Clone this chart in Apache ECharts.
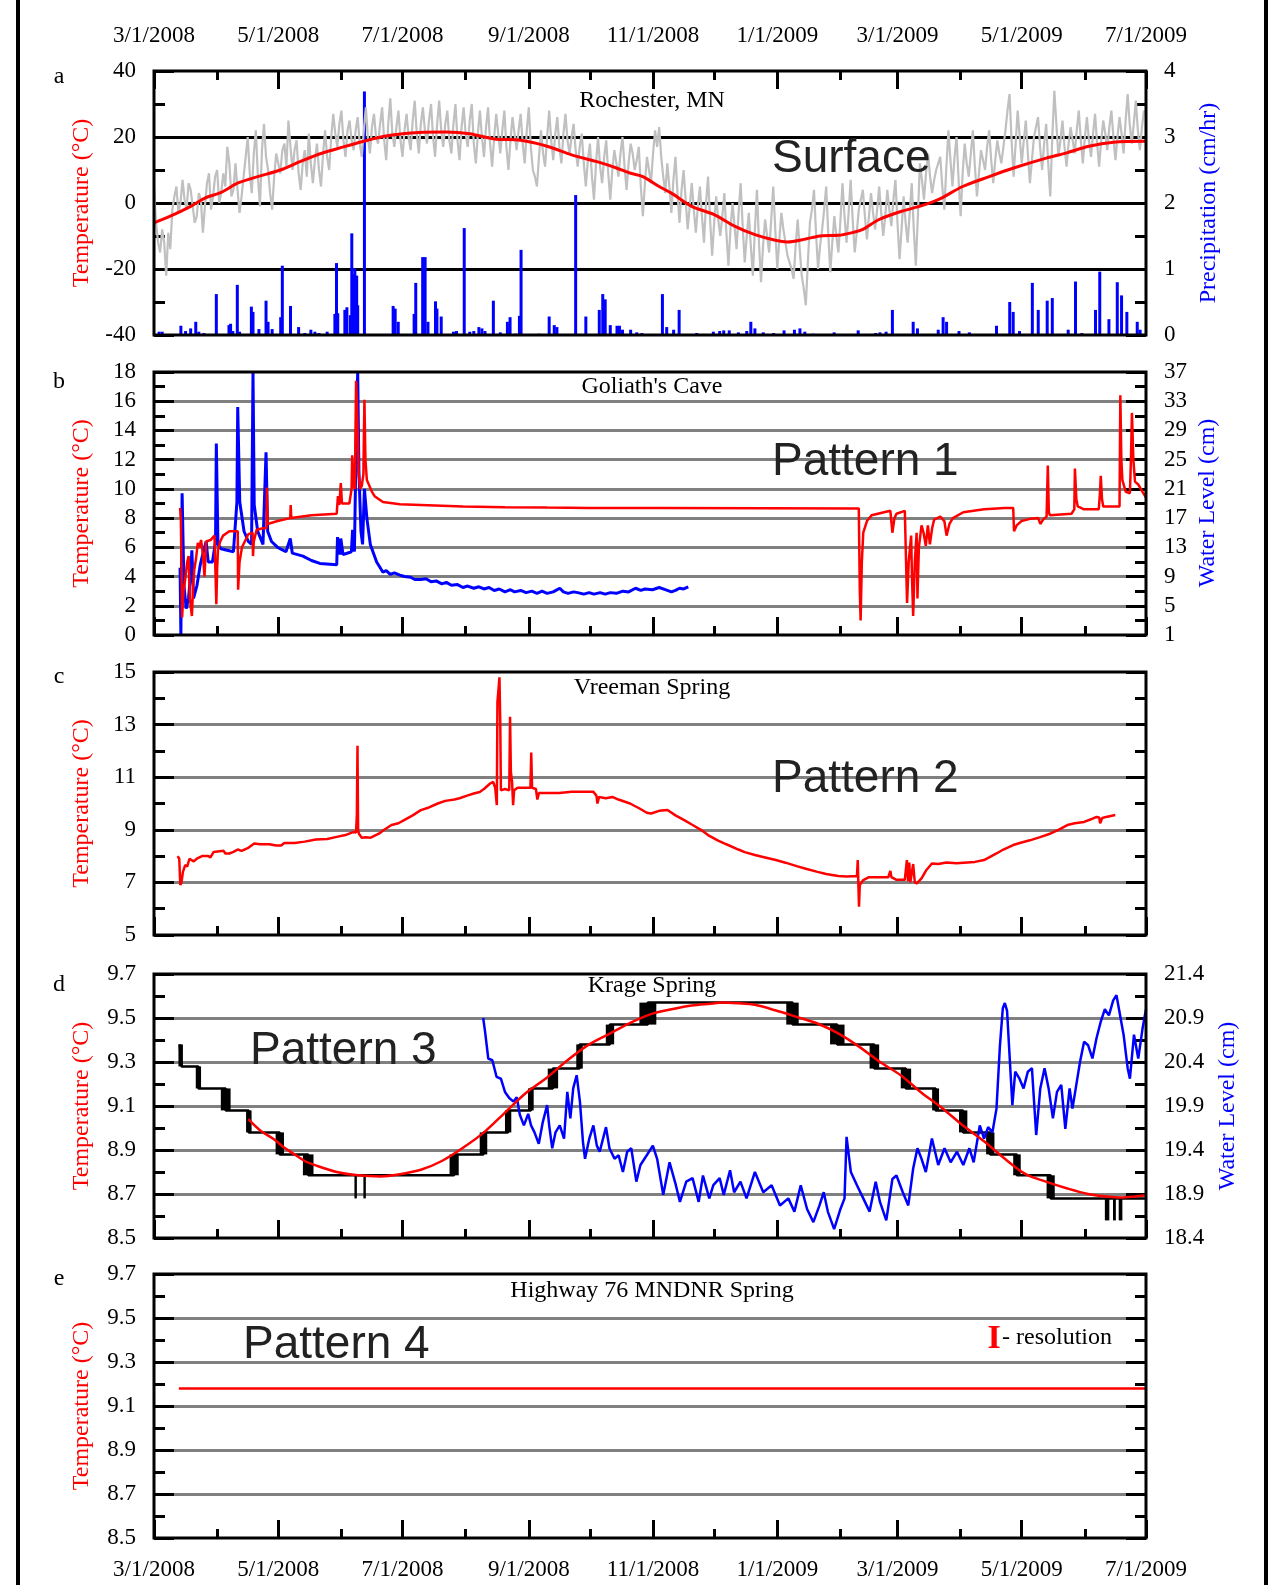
<!DOCTYPE html>
<html>
<head>
<meta charset="utf-8">
<title>Surface and spring temperature records</title>
<script src="https://cdn.jsdelivr.net/npm/echarts@6/dist/echarts.min.js"></script>
<style>
    html, body { margin: 0; padding: 0; background: #fff; }
    #chart { width: 1283px; height: 1585px; }
</style>
</head>
<body>
<div id="chart"></div>
<script>
// x values are days since 3/1/2008
var monthDays = [0, 31, 61, 92, 122, 153, 184, 214, 245, 275, 306, 337, 365, 396, 426, 457, 487];
var labelDays = [0, 61, 122, 184, 245, 306, 365, 426, 487];
var dateLabels = ['3/1/2008', '5/1/2008', '7/1/2008', '9/1/2008', '11/1/2008', '1/1/2009', '3/1/2009', '5/1/2009', '7/1/2009'];

// y tick labels
var ticksA = [-40, -20, 0, 20, 40];
var precipTicks = [0, 1, 2, 3, 4];
var ticksB = [0, 2, 4, 6, 8, 10, 12, 14, 16, 18];
var caveLevelTicks = [1, 5, 9, 13, 17, 21, 25, 29, 33, 37];
var ticksC = [5, 7, 9, 11, 13, 15];
var ticksDE = [8.5, 8.7, 8.9, 9.1, 9.3, 9.5, 9.7];
var krageLevelTicks = [18.4, 18.9, 19.4, 19.9, 20.4, 20.9, 21.4];

// a: Rochester air temperature on even days (day 0, 2, 4, ...)
var airTempEven = [
    5, -12, -8, -22, -14, 2, -3, 7, -2, 4,
    -6, 3, -9, 6, -2, 8, 0, 9, 17, 2,
    12, -3, 8, 20, 3, 22, -1, 24, 10, -2,
    15, 9, 18, 25, 10, 19, 4, 16, 21, 6,
    18, 5, 22, 10, 27, 17, 28, 14, 25, 16,
    26, 14, 29, 15, 27, 18, 29, 13, 31.7, 17,
    28, 14, 27, 16, 31, 15, 29, 18, 30, 14,
    31, 17, 28, 15, 30, 13, 29, 17, 30, 12,
    28, 14, 29, 11, 27, 15, 28, 10, 26, 16,
    27, 12, 29, 10, 5, 22, 11, 28, 13, 26,
    12, 27, 15, 24, 11, 21, 5, 18, 1, 20,
    6, 19, 1, 16, 8, 20, 4, 18, 10, 17,
    -4, 14, 6, 22, 23, 8, 12, -3, 14, -6,
    10, -8, 6, -9, 5, -12, 8, -16, 2, -10,
    3, -19, 0, -14, 6, -18, -3, -22, 4, -24,
    -5, -15, 5, -20, -3, -12, -18, -23, -5, -22,
    -31, -6, 4, -20, -8, 5, -21, -4, -15, 6,
    -12, 7, -15, -2, 4, -11, 3, -8, 5, -10,
    4, -7, 7, -17, 2, -12, 6, -19, 12, 1,
    15, 3, 10, 14, -2, 22, 5, 20, -4, 18,
    8, 22, 2, 16, 10, 22, 6, 19, 12, 22,
    33, 8, 28, 12, 25, 6, 20, 26, 10, 24,
    2, 34, 14, 25, 11, 23, 15, 28, 12, 26,
    14, 27, 11, 25, 16, 28, 13, 26, 15, 33,
    18, 31, 16, 28
];
// a: Rochester air temperature on odd days (day 1, 3, 5, ...)
var airTempOdd = [
    -6, -15, -12, -9, -2, 5, 0, 1, 6, -1,
    -4, 1, -1, 9, 2, 10, 3, 5, 12, 4,
    4, 2, 14, 9, 15, 8, 16, 14, 3, 8,
    12, 16, 11, 17, 16, 9, 12, 8, 12, 13,
    10, 15, 14, 20, 21, 24, 19, 22, 19, 22,
    18, 22, 20, 23, 20, 24, 19, 24, 21, 23,
    19, 22, 20, 25, 21, 24, 22, 25, 20, 24,
    22, 24, 19, 24, 19, 23, 21, 25, 18, 21,
    20, 23, 18, 20, 21, 22, 17, 19, 21, 22,
    18, 22, 17, 8, 14, 15, 20, 19, 21, 17,
    21, 19, 20, 16, 17, 12, 13, 8, 12, 11,
    14, 9, 10, 12, 15, 11, 12, 15, 13, 5,
    6, 10, 15, 17, 14, 3, 5, 7, 3, 4,
    1, -1, -2, -1, -4, 0, -5, -6, -5, -4,
    -9, -8, -7, -3, -7, -10, -13, -8, -12, -13,
    -10, -5, -8, -11, -8, -16, -20, -13, -14, -26,
    -18, -2, -9, -13, -2, -9, -12, -10, -5, -4,
    -3, -5, -9, 1, -4, -4, -3, -2, -3, -4,
    -2, 1, -6, -8, -6, -3, -8, -4, 7, 9,
    8, 7, 12, 5, 11, 13, 14, 7, 9, 12,
    15, 11, 9, 13, 17, 13, 13, 15, 17, 28,
    19, 18, 20, 19, 15, 13, 23, 17, 18, 12,
    20, 24, 19, 17, 18, 19, 22, 19, 20, 19,
    21, 18, 19, 21, 23, 20, 20, 21, 25, 24,
    24, 22, 23
];

// a: running mean of air temperature [day, degC]
var airTempMean = [[0, -6], [8, -4], [18, -1], [25, 1.5], [33, 3.2], [41, 6], [51, 8], [62, 10], [72, 12.6],
    [82, 15], [93, 17], [103, 18.7], [113, 20.2], [122, 21], [130, 21.4], [143, 21.5], [155, 21], [167, 19.4],
    [180, 19], [193, 17.2], [205, 14.6], [217, 12.6], [227, 10.6], [234, 9], [240, 8], [248, 5], [254, 3],
    [264, -1], [275, -3.5], [285, -7], [295, -9.6], [305, -11.3], [311, -11.8], [320, -10.9], [328, -9.9],
    [336, -9.8], [344, -8.8], [348, -8], [356, -5], [367, -2.5], [377, -0.8], [385, 1], [397, 5], [410, 8],
    [422, 10.6], [438, 13.6], [448, 15.2], [459, 17.2], [471, 18.4], [487, 18.7]];

// a: precipitation [day, cm/hr]
var precip = [[2.5, 0.05], [4, 0.05], [13.2, 0.14], [15.5, 0.06], [18, 0.1], [20.5, 0.2], [22, 0.05], [24.5, 0.03],
    [30.6, 0.62], [36.8, 0.15], [37.6, 0.17], [38.7, 0.06], [40.9, 0.76], [42, 0.05], [47.8, 0.43], [48.6, 0.35],
    [51.5, 0.09], [55, 0.52], [56, 0.2], [58, 0.09], [62.2, 0.27], [63, 1.05], [67, 0.44], [71, 0.12], [74, 0.03],
    [77, 0.08], [79, 0.05], [81, 0.03], [85, 0.05], [88.8, 0.32], [89.6, 1.09], [90.2, 0.33], [93.7, 0.38],
    [94.7, 0.42], [96.4, 0.3], [97.1, 1.54], [98, 0.92], [98.6, 1.01], [99.5, 0.9], [100, 0.45], [103.3, 3.69],
    [117.4, 0.44], [118.4, 0.4], [119.9, 0.2], [127.7, 0.32], [128.5, 0.79], [131.9, 1.18], [133.1, 1.18],
    [134.5, 0.2], [138.2, 0.51], [138.9, 0.4], [141, 0.28], [147, 0.05], [148.5, 0.06], [152.3, 1.62], [155, 0.05],
    [157, 0.06], [159.5, 0.12], [161, 0.1], [162.5, 0.06], [166.6, 0.52], [170, 0.04], [173.5, 0.2], [174.8, 0.27],
    [177.5, 0.02], [179.4, 0.29], [180.2, 1.29], [189, 0.02], [194, 0.28], [196.5, 0.15], [197.8, 0.12],
    [207, 2.12], [212, 0.28], [218.6, 0.38], [220.3, 0.62], [221.5, 0.54], [224, 0.15], [227.3, 0.14],
    [228.5, 0.14], [230, 0.08], [234, 0.08], [237, 0.04], [239.5, 0.03], [249.6, 0.62], [251.7, 0.12],
    [255.1, 0.08], [257.8, 0.38], [266.4, 0.03], [274.6, 0.05], [277.7, 0.06], [279.7, 0.07], [282.4, 0.07],
    [286.9, 0.04], [291, 0.06], [293, 0.2], [295, 0.1], [299.1, 0.04], [304.2, 0.03], [309.3, 0.07],
    [314.4, 0.08], [317.1, 0.1], [319.5, 0.05], [323.6, 0.02], [333.9, 0.04], [345.7, 0.07], [354.3, 0.03],
    [356.4, 0.04], [359.4, 0.05], [362.5, 0.38], [372.7, 0.2], [374.8, 0.1], [385, 0.08], [387.4, 0.27],
    [389.1, 0.2], [395.2, 0.06], [400.3, 0.04], [413.6, 0.14], [420.1, 0.5], [421.8, 0.35], [424.9, 0.06],
    [431.2, 0.79], [434.1, 0.38], [438.5, 0.52], [441, 0.56], [448.8, 0.08], [452.4, 0.81], [455.5, 0.03],
    [462.2, 0.38], [464.3, 0.96], [468.8, 0.24], [472.9, 0.8], [475, 0.6], [477.6, 0.35], [482.7, 0.2],
    [484.1, 0.08]];

// b: Goliath's Cave temperature [day, degC]
var caveTemp = [[12.8, 8.7], [13.2, 7.8], [13.8, 1.2], [14.5, 3.0], [15.3, 3.8], [16.3, 5.0], [17.0, 5.4],
    [17.6, 2.5], [18.6, 1.3], [19.3, 3.5], [19.8, 4.5], [20.6, 5.2], [21.5, 6.3], [22.3, 6.0], [23.1, 6.5],
    [24.0, 5.5], [24.8, 4.0], [25.6, 6.4], [27.7, 6.5], [29.7, 6.8], [30.6, 2.1], [31.0, 4.5], [31.4, 5.8],
    [32.5, 6.4], [33.9, 6.8], [37, 7.1], [41.1, 7.1], [41.3, 3.1], [42.0, 5.0], [43.2, 6.0], [46.3, 6.9],
    [48.4, 7.0], [48.6, 5.4], [49.0, 6.4], [50.4, 7.2], [53.5, 7.3], [55.2, 7.3], [55.4, 10.1], [55.8, 7.6],
    [60.7, 7.8], [66.9, 8.0], [67.1, 8.9], [67.4, 8.0], [77.3, 8.2], [89.7, 8.3], [90.3, 9.5], [91.0, 8.9],
    [91.7, 10.4], [92.3, 9.0], [95.9, 9.0], [97.0, 10.0], [97.3, 12.3], [98.0, 10.2], [98.6, 10.0],
    [99.2, 17.4], [99.6, 16.0], [100, 14], [100.5, 11], [101.2, 10.0], [102, 10.2], [102.8, 11], [103.3, 16.1],
    [103.8, 12], [104.5, 10.6], [105.4, 10.5], [107, 9.8], [108.3, 9.5], [112.4, 9.1], [120.7, 8.95],
    [131, 8.9], [151.7, 8.8], [172.3, 8.75], [193, 8.72], [213.6, 8.7], [248.4, 8.7], [300, 8.68], [346, 8.66],
    [346.5, 3], [346.9, 1.0], [347.5, 5], [348.2, 7.0], [350, 7.8], [352.3, 8.2], [361.5, 8.5], [362.3, 8.4],
    [362.5, 7.0], [363.5, 8.0], [364.5, 8.3], [368.6, 8.5], [369.7, 2.2], [370.5, 5], [371.7, 6.8], [372.1, 4],
    [372.7, 1.3], [373.5, 5], [374.4, 7.0], [374.8, 2.5], [375.5, 6], [376.8, 7.5], [377.8, 7.0], [378.9, 6.1],
    [379.9, 7.5], [380.9, 6.2], [382, 7.3], [383, 7.9], [386, 8.1], [388, 7.8], [389.1, 6.8], [390.5, 7.6],
    [392.2, 8.0], [397.3, 8.4], [407.5, 8.6], [417.7, 8.7], [421.8, 8.7], [422.2, 7.1], [423.5, 7.5],
    [425.9, 7.8], [430, 7.95], [434.1, 8.0], [435.1, 7.6], [436.5, 7.9], [438.2, 8.1], [438.8, 11.6],
    [439.3, 8.4], [439.8, 8.2], [450.4, 8.3], [451.8, 8.6], [452.1, 11.4], [452.8, 9.3], [453.5, 8.8],
    [456.6, 8.6], [463.8, 8.6], [464.3, 9.5], [464.8, 10.9], [465.4, 9.3], [466, 8.8], [474, 8.8],
    [474.4, 16.4], [474.9, 12], [475.4, 10.6], [477.1, 9.8], [479.1, 9.7], [479.6, 12], [480.1, 15.2],
    [480.8, 12], [481.6, 10.5], [483.2, 10.3], [485.3, 9.8], [487, 9.4]];

// b: Goliath's Cave water level [day, cm]
var caveLevel = [[12.8, 10.2], [13.2, 1], [13.8, 20.4], [14.7, 7.8], [15.8, 4.6], [16.95, 6], [17.8, 8.8],
    [18.6, 12.6], [19.4, 6], [21.1, 7.8], [22.7, 10.6], [23.9, 12], [25.6, 13.8], [26.6, 11], [28.7, 11],
    [30.2, 13.8], [30.6, 27.2], [31.4, 13.4], [32.9, 12.8], [35.9, 12.6], [39, 12.4], [40.7, 19.2],
    [41.1, 32.2], [42.1, 19.2], [44.2, 15.2], [46.3, 13.8], [47.9, 13.4], [48.6, 37], [49.2, 18.8],
    [50.9, 15.2], [53.5, 13.4], [55, 26], [55.8, 15.2], [57.7, 13.8], [60.7, 13], [64.8, 12.4], [66.9, 14.2],
    [67.9, 12.2], [73.1, 11.8], [77.3, 11.2], [81.4, 10.8], [89.7, 10.6], [90.1, 14.4], [91.3, 12],
    [91.7, 14.2], [92.8, 12], [96.9, 12.4], [97.5, 15.4], [98.4, 12.4], [99.2, 27], [100, 37], [100.6, 23.4],
    [101.6, 15.2], [102.4, 13.4], [103.3, 21], [104.5, 17], [106.2, 13.4], [109.3, 11], [112.4, 9.6],
    [114, 9.8], [116, 9.3], [118, 9.5], [120.7, 9.2], [123, 9.0], [126, 8.9], [128, 8.6], [131, 8.6],
    [133.5, 8.7], [136, 8.3], [138.5, 8.4], [141.3, 8], [143.5, 8.2], [146, 7.8], [149, 7.9], [151.7, 7.5],
    [154, 7.7], [157, 7.4], [159.5, 7.6], [162, 7.3], [164.5, 7.5], [167, 7.1], [169.5, 7.3], [172.3, 6.9],
    [175, 7.2], [177, 6.9], [180, 7.1], [182.7, 6.8], [185.5, 7.0], [188, 6.7], [190.5, 7.0], [193, 6.7],
    [196, 6.9], [199.2, 7.4], [201, 6.9], [203.3, 6.7], [206, 6.9], [208, 6.8], [211, 6.6], [213.6, 6.8],
    [216, 6.6], [219, 6.8], [221.5, 6.6], [224, 6.8], [227, 6.7], [230.2, 7], [233, 6.9], [236.4, 7.4],
    [239, 7.1], [241, 7.3], [244.7, 7.2], [248, 7.5], [251, 7.2], [254, 6.9], [256, 7.1], [258, 7.4],
    [260, 7.3], [262.3, 7.6]];

// c: Vreeman Spring temperature [day, degC]
var vreemanTemp = [[11.6, 8.0], [12.4, 7.9], [12.9, 6.9], [13.5, 7.0], [14.2, 7.4], [15.3, 7.66], [16.3, 7.6],
    [17.4, 7.9], [19.5, 7.8], [21, 7.9], [23.6, 8.0], [26.7, 8.0], [27.7, 7.95], [29.3, 8.16], [34.2, 8.2],
    [35, 8.1], [37, 8.1], [39, 8.16], [41.1, 8.25], [43, 8.2], [46, 8.3], [49.2, 8.48], [52, 8.45],
    [56.6, 8.45], [60, 8.4], [62.4, 8.4], [64, 8.5], [69, 8.5], [74, 8.55], [79.4, 8.63], [85, 8.65],
    [89.7, 8.73], [94, 8.8], [98, 8.92], [99.2, 8.9], [99.6, 9.6], [99.9, 12.2], [100.2, 9.0], [100.6, 8.85],
    [101.2, 8.8], [102, 8.7], [104, 8.72], [106.4, 8.7], [110.4, 8.85], [113, 9.0], [116.6, 9.18],
    [120, 9.25], [122.8, 9.37], [127, 9.55], [131, 9.75], [135, 9.85], [139.3, 10.0], [143, 10.1],
    [147.5, 10.15], [150, 10.2], [153.7, 10.3], [157, 10.38], [159.9, 10.44], [162, 10.55], [165, 10.76],
    [166.5, 10.82], [167.5, 10.6], [168.3, 9.94], [168.6, 13.86], [169.6, 14.8], [170, 13], [170.3, 10.5],
    [172.3, 10.55], [174.4, 10.5], [174.8, 13.3], [175.2, 11.2], [175.8, 10.8], [176.3, 9.94], [176.8, 10.5],
    [178.5, 10.6], [184.8, 10.6], [185.2, 11.94], [185.6, 10.6], [187.5, 10.55], [188.2, 10.15], [189, 10.4],
    [199, 10.4], [205, 10.45], [215.6, 10.45], [217.2, 10.3], [217.7, 10.0], [218.5, 10.25], [221.8, 10.2],
    [225, 10.25], [228, 10.15], [233.7, 10.0], [238.6, 9.8], [241.9, 9.65], [244, 9.62], [248, 9.72],
    [252.1, 9.75], [256, 9.55], [260.3, 9.37], [264, 9.2], [268.5, 9.0], [272, 8.8], [276.7, 8.6],
    [281, 8.45], [286.9, 8.25], [290, 8.15], [295, 8.04], [300, 7.95], [305.3, 7.85], [310, 7.75],
    [315.5, 7.62], [320, 7.52], [325.7, 7.4], [330, 7.32], [335.9, 7.24], [340, 7.22], [345.1, 7.24],
    [345.5, 7.85], [345.7, 7.2], [346.1, 6.08], [346.5, 6.9], [348.2, 7.09], [351, 7.2], [356, 7.2],
    [360.5, 7.2], [361.5, 7.44], [362, 7.2], [364.5, 7.1], [368.6, 7.1], [369.6, 7.85], [370.2, 7.05],
    [370.8, 7.75], [371.3, 7.0], [371.7, 6.96], [372.7, 7.7], [373.5, 7.0], [374.5, 6.96], [376.8, 7.15],
    [379, 7.45], [381.9, 7.72], [385, 7.7], [389.1, 7.76], [394, 7.73], [399.3, 7.76], [403, 7.78],
    [407.5, 7.85], [410, 7.95], [413.6, 8.1], [417, 8.25], [421.8, 8.42], [425, 8.5], [430, 8.6],
    [435, 8.72], [440.2, 8.86], [444, 9.0], [448.4, 9.18], [452, 9.25], [456.6, 9.3], [460, 9.4],
    [462.7, 9.49], [464, 9.47], [464.5, 9.25], [465.5, 9.45], [468, 9.5], [471.9, 9.56]];

// d: Krage Spring logger temperature, level held from each day [day, degC]
var krageTemp = [[12.6, 9.38], [13.5, 9.28], [21.8, 9.18], [35.2, 9.08], [46.5, 8.98], [61.7, 8.88],
    [75.7, 8.785], [147.3, 8.88], [161.7, 8.98], [173.8, 9.08], [185, 9.18], [195.8, 9.27], [208.9, 9.38],
    [223.8, 9.47], [242.4, 9.57], [313.5, 9.47], [335.4, 9.38], [353.6, 9.27], [369.1, 9.18], [383.7, 9.08],
    [397.2, 8.98], [410.5, 8.88], [423.6, 8.785], [440.2, 8.68], [487, 8.68]];
// d: spans where the logger flickers between two levels [startDay, endDay, low, high]
var krageFlicker = [[12.0, 14.2, 9.28, 9.38], [20.5, 23.1, 9.18, 9.28], [32.8, 37.6, 9.08, 9.18],
    [45.2, 47.9, 8.98, 9.08], [59.7, 63.8, 8.88, 8.98], [73.1, 78.3, 8.785, 8.88], [98.4, 99.6, 8.68, 8.785],
    [102.8, 104.0, 8.68, 8.785], [145.1, 149.6, 8.785, 8.88], [159.9, 163.6, 8.88, 8.98],
    [172.3, 175.4, 8.98, 9.08], [183.6, 186.4, 9.08, 9.18], [193.3, 198.4, 9.18, 9.27],
    [207.3, 210.5, 9.27, 9.38], [221.8, 225.9, 9.38, 9.47], [238.3, 246.6, 9.47, 9.57],
    [310.4, 316.5, 9.47, 9.57], [331.9, 339.0, 9.38, 9.47], [351.3, 356.0, 9.27, 9.38],
    [366.6, 371.7, 9.18, 9.27], [382.0, 385.4, 9.08, 9.18], [395.2, 399.3, 8.98, 9.08],
    [408.5, 412.6, 8.88, 8.98], [421.8, 425.5, 8.785, 8.88], [438.2, 442.2, 8.68, 8.785],
    [466.8, 469.0, 8.58, 8.68], [470.8, 472.2, 8.58, 8.68], [473.6, 475.4, 8.58, 8.68]];
// d: fitted seasonal curve [day, degC]
var krageFit = [[46.3, 9.04], [52, 8.99], [58.7, 8.95], [64, 8.91], [69, 8.88], [74, 8.85], [79.4, 8.83],
    [89.7, 8.8], [100, 8.785], [111.4, 8.78], [120.7, 8.79], [131, 8.81], [141.3, 8.85], [151.7, 8.91],
    [162, 8.98], [172.3, 9.07], [182.7, 9.16], [193, 9.23], [203.3, 9.31], [213.6, 9.38], [224, 9.43],
    [234.3, 9.48], [244.7, 9.52], [254.1, 9.54], [264, 9.557], [274.6, 9.566], [278.7, 9.571], [287, 9.567],
    [295, 9.56], [305, 9.535], [315.5, 9.505], [325.7, 9.475], [335.9, 9.43], [346.1, 9.37], [356.4, 9.3],
    [366.6, 9.24], [376.8, 9.16], [387, 9.09], [397.3, 9.01], [407.5, 8.94], [417.7, 8.86], [427.9, 8.79],
    [438.2, 8.755], [448.4, 8.725], [458.6, 8.70], [468.8, 8.687], [474.9, 8.684], [481, 8.688], [487, 8.694]];
// d: Krage Spring water level [day, cm]
var krageLevel = [[161.6, 20.9], [162.5, 20.75], [164.1, 20.44], [166.1, 20.42], [168.2, 20.23], [170.3, 20.21],
    [172.3, 20.06], [174.4, 19.99], [176.5, 19.95], [178.1, 20.0], [179.6, 19.8], [181.6, 19.68], [183.7, 19.81],
    [185.1, 19.68], [186.8, 19.6], [188.9, 19.47], [190.9, 19.72], [193, 19.91], [194, 19.68], [195.5, 19.42],
    [197.1, 19.6], [199.2, 19.68], [201.3, 19.53], [202.9, 20.06], [204.4, 19.76], [205.8, 20.1],
    [207.5, 20.25], [209.1, 19.95], [210.6, 19.49], [211.6, 19.3], [213.7, 19.53], [215.7, 19.68],
    [217.4, 19.45], [218.8, 19.38], [221.9, 19.66], [223.6, 19.42], [226.1, 19.3], [228.1, 19.34],
    [230.2, 19.15], [232.3, 19.38], [234.3, 19.42], [236.8, 19.04], [238.8, 19.23], [241.9, 19.34],
    [244.9, 19.45], [247, 19.3], [250, 18.89], [253.1, 19.26], [256.2, 19.0], [258.2, 18.81], [261.3, 19.04],
    [264.4, 19.08], [267.4, 18.81], [269.5, 19.11], [272.6, 18.85], [274.6, 19.0], [277.7, 19.08],
    [279.7, 18.89], [282.8, 19.17], [284.8, 18.92], [287.9, 19.04], [290.9, 18.85], [295, 19.15],
    [299.1, 18.92], [303.2, 19.0], [307.3, 18.77], [311.4, 18.85], [314.4, 18.7], [317.5, 19.0],
    [320.6, 18.73], [323.7, 18.58], [326.7, 18.77], [328.8, 18.92], [330.8, 18.7], [333.9, 18.5],
    [337, 18.73], [339, 18.85], [340, 19.55], [342.1, 19.15], [345.1, 19.0], [348.2, 18.85], [351.3, 18.7],
    [354.3, 19.04], [356.4, 18.81], [359.5, 18.6], [362.5, 19.07], [364.5, 19.11], [367.6, 18.92],
    [370.3, 18.77], [372.7, 19.19], [374.8, 19.42], [376.8, 19.3], [378.9, 19.15], [381.9, 19.53],
    [385, 19.23], [388.1, 19.42], [391.1, 19.26], [394.2, 19.38], [397.3, 19.23], [400.3, 19.42],
    [402.4, 19.26], [405.4, 19.68], [407.5, 19.53], [409.5, 19.66], [411.6, 19.6], [413.6, 19.87],
    [415.3, 20.59], [416.7, 21.01], [417.7, 21.07], [418.8, 20.98], [420.2, 20.4], [421.4, 19.91],
    [422.8, 20.29], [424.9, 20.21], [426.9, 20.1], [429, 20.29], [431, 20.33], [433.1, 19.57], [435.1, 20.1],
    [437.2, 20.33], [439.2, 20.1], [441.3, 19.76], [443.3, 20.06], [445.4, 20.14], [447.4, 19.64],
    [449.5, 20.1], [450.9, 19.87], [452.5, 20.1], [454.6, 20.4], [456.6, 20.63], [458.6, 20.59],
    [460.7, 20.44], [462.7, 20.67], [464.8, 20.86], [466.8, 21.0], [468.8, 20.93], [470.9, 21.1],
    [472.5, 21.16], [473.9, 20.98], [476, 20.71], [478, 20.33], [479.1, 20.21], [481.1, 20.71],
    [483.2, 20.44], [485.3, 20.78], [487, 21.0]];

// e: Highway 76 MNDNR Spring temperature [day, degC]
var hwyTemp = [[12.2, 9.18], [217, 9.18], [487, 9.18]];

var SERIF = 'Liberation Serif';
var PLOT_LEFT = 154, PLOT_W = 992;

var panels = [
    {top: 71, h: 264, lo: -40, hi: 40, ticks: ticksA, gridColor: '#000', xPos: 'top', labelMargin: 24,
        right: {lo: 0, hi: 4, ticks: precipTicks}},
    {top: 372, h: 263, lo: 0, hi: 18, ticks: ticksB, gridColor: '#808080', xPos: 'bottom',
        right: {lo: 1, hi: 37, ticks: caveLevelTicks}},
    {top: 672, h: 263, lo: 5, hi: 15, ticks: ticksC, gridColor: '#808080', xPos: 'bottom'},
    {top: 974, h: 264, lo: 8.5, hi: 9.7, ticks: ticksDE, gridColor: '#808080', xPos: 'bottom',
        right: {lo: 18.4, hi: 21.4, ticks: krageLevelTicks}},
    {top: 1274, h: 264, lo: 8.5, hi: 9.7, ticks: ticksDE, gridColor: '#808080', xPos: 'bottom', labelMargin: 20}
];

function midpoints(arr) {
    var out = [];
    for (var i = 0; i < arr.length - 1; i++) {
        out.push(Math.round((arr[i] + arr[i + 1]) * 50) / 100);
    }
    return out;
}

function fmtNum(v) {
    return String(Math.round(v * 10) / 10);
}

function bareAxis(gi, min, max, position, z) {
    return {
        type: 'value', gridIndex: gi, min: min, max: max, position: position, z: z,
        axisLine: {show: false, onZero: false},
        axisTick: {show: false},
        axisLabel: {show: false},
        splitLine: {show: false}
    };
}

function setTicks(axis, values, len) {
    axis.axisTick = {show: true, inside: true, length: len, customValues: values,
        lineStyle: {color: '#000', width: 3}};
    return axis;
}

function setLabels(axis, values, margin, formatter) {
    axis.axisLabel = {show: true, customValues: values, margin: margin, showMinLabel: true, showMaxLabel: true,
        fontFamily: SERIF, fontSize: 23, color: '#000', formatter: formatter};
    return axis;
}

var grids = [], xAxes = [], yAxes = [], series = [];

panels.forEach(function (p, gi) {
    grids.push({left: PLOT_LEFT, width: PLOT_W, top: p.top, height: p.h, show: false});

    // horizontal grid lines (interior values only)
    var g = bareAxis(gi, p.lo, p.hi, 'left', 0);
    g.axisTick = {show: false, customValues: p.ticks.slice(1, -1)};
    g.splitLine = {show: true, lineStyle: {color: p.gridColor, width: 3}};
    yAxes.push(g);

    p.yL = yAxes.length;
    yAxes.push(setLabels(setTicks(bareAxis(gi, p.lo, p.hi, 'left', 3), p.ticks, 20), p.ticks, 18, fmtNum));
    yAxes.push(setTicks(bareAxis(gi, p.lo, p.hi, 'left', 3), midpoints(p.ticks), 11));
    yAxes.push(setTicks(bareAxis(gi, p.lo, p.hi, 'right', 3), p.ticks, 20));
    yAxes.push(setTicks(bareAxis(gi, p.lo, p.hi, 'right', 3), midpoints(p.ticks), 11));
    if (p.right) {
        p.yR = yAxes.length;
        yAxes.push(setLabels(bareAxis(gi, p.right.lo, p.right.hi, 'right', 3), p.right.ticks, 18, fmtNum));
    }

    p.x = xAxes.length;
    var xm = setTicks(bareAxis(gi, 0, 487, p.xPos, 3), monthDays, 9);
    if (p.labelMargin) {
        setLabels(xm, labelDays, p.labelMargin, function (v) {
            return dateLabels[labelDays.indexOf(Math.round(v))];
        });
    }
    xAxes.push(xm);
    xAxes.push(setTicks(bareAxis(gi, 0, 487, p.xPos, 3), labelDays, 18));
});

function line(p, yi, data, color, width, extra) {
    var s = {
        type: 'line', xAxisIndex: p.x, yAxisIndex: yi, data: data,
        symbol: 'none', showSymbol: false, silent: true, animation: false,
        lineStyle: {color: color, width: width}, itemStyle: {color: color}, z: 3
    };
    for (var k in extra || {}) s[k] = extra[k];
    return s;
}

var pa = panels[0], pb = panels[1], pc = panels[2], pd = panels[3], pe = panels[4];

// interleave the even-day and odd-day air temperatures
var airTemp = [];
airTempEven.forEach(function (v, i) {
    airTemp.push([2 * i, v]);
    if (i < airTempOdd.length) airTemp.push([2 * i + 1, airTempOdd[i]]);
});

series.push(line(pa, pa.yL, airTemp, '#c0c0c0', 2.2));
series.push({
    type: 'bar', xAxisIndex: pa.x, yAxisIndex: pa.yR, data: precip, barWidth: 3,
    itemStyle: {color: '#0000ff'}, silent: true, animation: false, z: 3
});
series.push(line(pa, pa.yL, airTempMean, '#ff0000', 3, {smooth: 0.3}));

series.push(line(pb, pb.yR, caveLevel, '#0000ff', 3));
series.push(line(pb, pb.yL, caveTemp, '#ff0000', 2.5));

series.push(line(pc, pc.yL, vreemanTemp, '#ff0000', 2.5));

series.push(line(pd, pd.yL, krageTemp, '#000', 2.5, {step: 'end'}));
series.push({
    type: 'custom', xAxisIndex: pd.x, yAxisIndex: pd.yL, data: krageFlicker,
    encode: {x: [0, 1], y: [2, 3]}, silent: true, animation: false, z: 3,
    renderItem: function (params, api) {
        var a = api.coord([api.value(0), api.value(3)]);
        var b = api.coord([api.value(1), api.value(2)]);
        return {type: 'rect', shape: {x: a[0], y: a[1], width: b[0] - a[0], height: b[1] - a[1]},
            style: {fill: '#000'}};
    }
});
series.push(line(pd, pd.yR, krageLevel, '#0000ff', 2.5));
series.push(line(pd, pd.yL, krageFit, '#ff0000', 2.5, {smooth: 0.3}));

series.push(line(pe, pe.yL, hwyTemp, '#ff0000', 2.5));

// text and frames
var graphics = [];
function txt(x, y, text, opts) {
    var el = {type: 'text', x: x, y: y, z: 100, silent: true,
        style: {text: text, fontFamily: SERIF, fontSize: 24, fill: '#000', align: 'center', verticalAlign: 'middle'}};
    for (var k in opts || {}) {
        if (k === 'rotation') el.rotation = opts[k]; else el.style[k] = opts[k];
    }
    graphics.push(el);
}

graphics.push({type: 'line', z: 100, silent: true, shape: {x1: 18, y1: 0, x2: 18, y2: 1585},
    style: {stroke: '#000', lineWidth: 4}});
graphics.push({type: 'line', z: 100, silent: true, shape: {x1: 1266, y1: 0, x2: 1266, y2: 1585},
    style: {stroke: '#000', lineWidth: 4}});
panels.forEach(function (p) {
    graphics.push({type: 'rect', z: 100, silent: true, shape: {x: PLOT_LEFT, y: p.top, width: PLOT_W, height: p.h},
        style: {fill: 'none', stroke: '#000', lineWidth: 3}});
    txt(82, p.top + p.h / 2, 'Temperature (\u00B0C)', {fill: '#ff0000', rotation: Math.PI / 2});
});

txt(59, 77, 'a');
txt(59, 382, 'b');
txt(59, 677, 'c');
txt(59, 985, 'd');
txt(59, 1279, 'e');

txt(652, 101, 'Rochester, MN');
txt(652, 387, "Goliath's Cave");
txt(652, 688, 'Vreeman Spring');
txt(652, 986, 'Krage Spring');
txt(652, 1291, 'Highway 76 MNDNR Spring');

txt(1209, 203, 'Precipitation (cm/hr)', {fill: '#0000ff', rotation: Math.PI / 2});
txt(1208, 503, 'Water Level (cm)', {fill: '#0000ff', rotation: Math.PI / 2});
txt(1228, 1106, 'Water Level (cm)', {fill: '#0000ff', rotation: Math.PI / 2});

var big = {fontFamily: 'Liberation Sans', fontSize: 46, fill: '#222', align: 'left'};
txt(772, 159, 'Surface', big);
txt(772, 462, 'Pattern 1', big);
txt(772, 779, 'Pattern 2', big);
txt(250, 1051, 'Pattern 3', big);
txt(243, 1345, 'Pattern 4', big);

txt(994, 1339, 'I', {fill: '#ff0000', fontSize: 34, fontWeight: 'bold'});
txt(1002, 1338, '- resolution', {align: 'left'});

var chart = echarts.init(document.getElementById('chart'));
chart.setOption({
    animation: false,
    backgroundColor: '#fff',
    grid: grids,
    xAxis: xAxes,
    yAxis: yAxes,
    series: series,
    graphic: {elements: graphics}
});
</script>
</body>
</html>
